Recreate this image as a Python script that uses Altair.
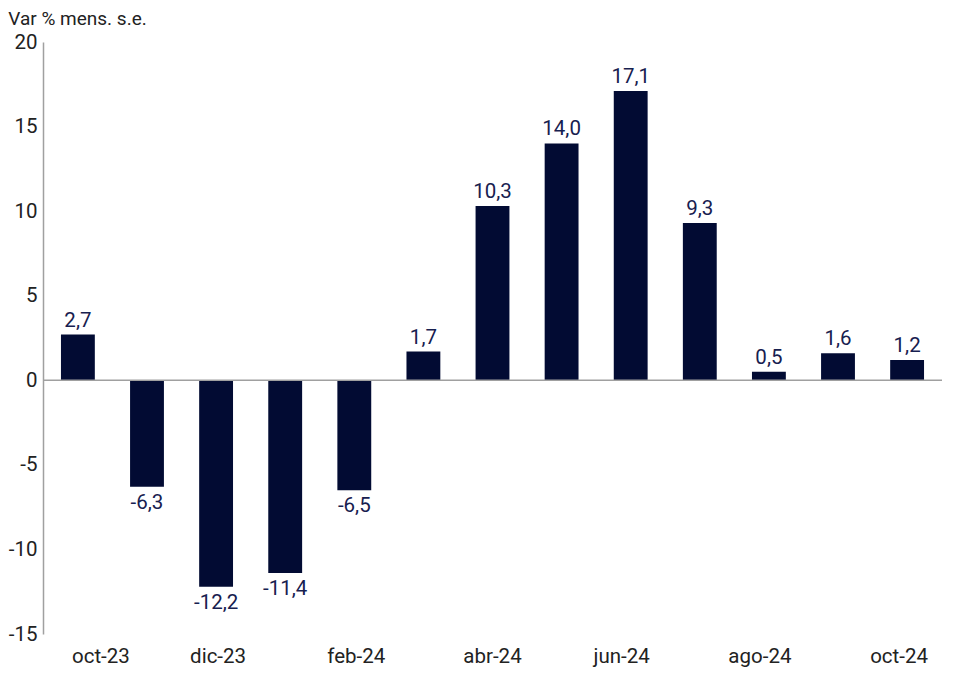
import altair as alt
import pandas as pd

months = ["oct-23", "nov-23", "dic-23", "ene-24", "feb-24", "mar-24", "abr-24",
          "may-24", "jun-24", "jul-24", "ago-24", "sep-24", "oct-24"]
values = [2.7, -6.3, -12.2, -11.4, -6.5, 1.7, 10.3, 14.0, 17.1, 9.3, 0.5, 1.6, 1.2]
shown_labels = ["oct-23", "dic-23", "feb-24", "abr-24", "jun-24", "ago-24", "oct-24"]
label_shift = [23, 2, 2, 0, -9, -9, -8]

df = pd.DataFrame({"mes": months, "valor": values})

FONT = "Roboto"
BAR = "#020B33"
LBL = "#17204F"
FS = 20.5
W = 899

offset_cond = [{"test": f"datum.value == '{m}'", "value": s}
               for m, s in zip(shown_labels, label_shift) if s != 0]

x = alt.X("mes:O", sort=months, title=None,
          scale=alt.Scale(paddingInner=0.51, paddingOuter=0.26),
          axis=alt.Axis(values=shown_labels, domain=False, ticks=False, labelAngle=0,
                        labelFontSize=FS, labelFont=FONT, labelColor="#222222",
                        labelPadding=12,
                        labelOffset={"condition": offset_cond, "value": 0}))
y = alt.Y("valor:Q", title=None,
          scale=alt.Scale(domain=[-15, 20], nice=False),
          axis=alt.Axis(values=[-15, -10, -5, 0, 5, 10, 15, 20], grid=False,
                        domainColor="#A0A0A0", domainWidth=1.5, ticks=False,
                        labelExpr="replace(datum.label, '\u2212', '-')",
                        labelFontSize=FS, labelFont=FONT, labelColor="#222222",
                        labelPadding=6))

base = alt.Chart(df).encode(x=x)

bars = base.mark_bar(color=BAR).encode(y=y)

zero = alt.Chart(pd.DataFrame({"z": [0]})).mark_rule(color="#A0A0A0", strokeWidth=1.5).encode(
    y=alt.Y("z:Q", scale=alt.Scale(domain=[-15, 20], nice=False)),
    x=alt.value(0), x2=alt.value(W))

lab = base.transform_calculate(
    txt="replace(replace(format(datum.valor, '.1f'), '.', ','), '\u2212', '-')")

pos = lab.transform_filter("datum.valor >= 0").mark_text(
    baseline="bottom", dy=-4, font=FONT, fontSize=FS, color=LBL).encode(
    y="valor:Q", text="txt:N")
neg = lab.transform_filter("datum.valor < 0").mark_text(
    baseline="top", dy=6, font=FONT, fontSize=FS, color=LBL).encode(
    y="valor:Q", text="txt:N")

chart = alt.layer(bars, zero, pos, neg).properties(
    width=W, height=592,
    background="white",
    padding={"left": 0, "top": 2, "right": 0, "bottom": 0},
    title=alt.TitleParams("Var % mens. s.e.", anchor="start", frame="bounds",
                          font=FONT, fontSize=19, fontWeight="normal",
                          color="#222222", offset=3)
).configure_view(stroke=None)

chart.save("out.html", embed_options={"renderer": "svg", "actions": False})
